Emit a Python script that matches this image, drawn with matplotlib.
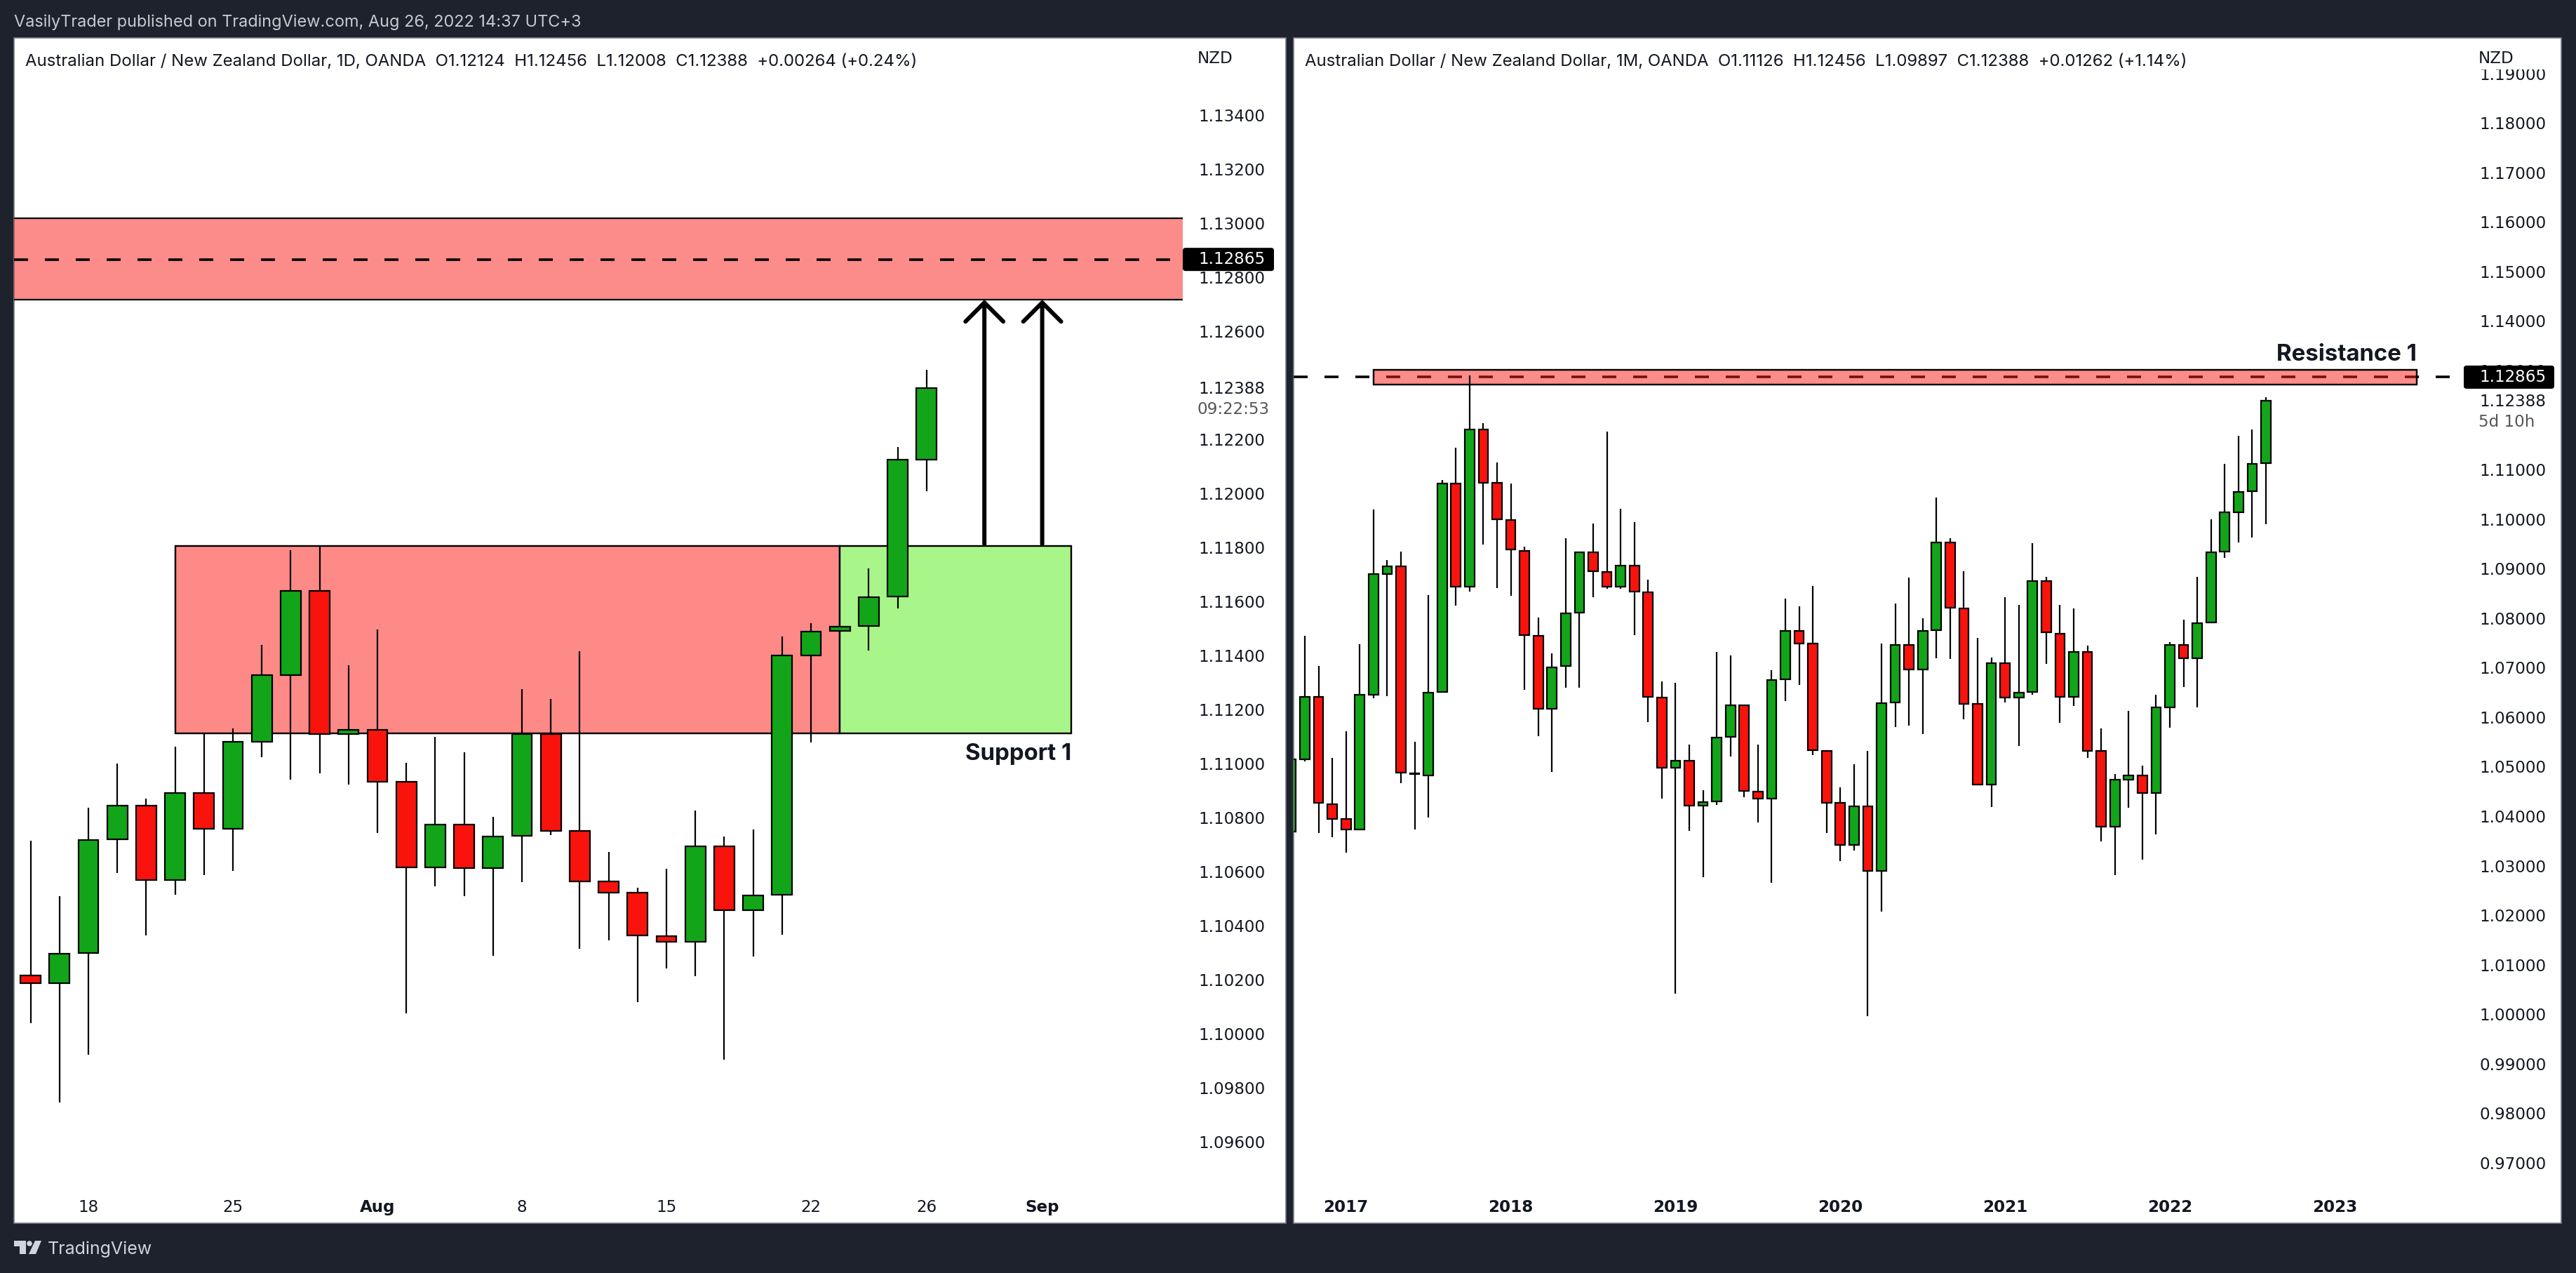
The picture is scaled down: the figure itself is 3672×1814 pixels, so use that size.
import numpy as np
import matplotlib
matplotlib.use("Agg")
from matplotlib import pyplot as plt
from matplotlib.patches import Rectangle, FancyBboxPatch, Polygon, Circle
from matplotlib.transforms import Affine2D

W, H = 3672, 1814
DPI = 100
BG = "#1e222d"
GREEN = "#12a519"
RED = "#f8130d"
BOX_RED = "#f81a14"
BOX_GREEN = "#a8f58a"

# daily candles, from mid July to Aug 26 2022
D_OPEN = [1.10214, 1.10185, 1.10297, 1.10718, 1.10843, 1.10567, 1.10889, 1.10757,
          1.11080, 1.11327, 1.11638, 1.11107, 1.11123, 1.10931, 1.10616, 1.10774,
          1.10613, 1.10731, 1.11108, 1.10749, 1.10563, 1.10521, 1.10361, 1.10339,
          1.10692, 1.10456, 1.10514, 1.11398, 1.11490, 1.11507, 1.11618, 1.12124]
D_HIGH = [1.10713, 1.10509, 1.10836, 1.10998, 1.10870, 1.11061, 1.11108, 1.11128,
          1.11439, 1.11790, 1.11805, 1.11362, 1.11496, 1.11003, 1.11099, 1.11041,
          1.10803, 1.11275, 1.11237, 1.11414, 1.10673, 1.10539, 1.10609, 1.10824,
          1.10729, 1.10754, 1.11469, 1.11518, 1.11508, 1.11720, 1.12170, 1.12456]
D_LOW = [1.10038, 1.09744, 1.09922, 1.10594, 1.10363, 1.10513, 1.10587, 1.10601,
         1.11023, 1.10940, 1.10964, 1.10922, 1.10743, 1.10075, 1.10545, 1.10508,
         1.10288, 1.10560, 1.10734, 1.10314, 1.10345, 1.10115, 1.10242, 1.10211,
         1.09902, 1.10284, 1.10366, 1.11077, 1.11485, 1.11418, 1.11574, 1.12008]
D_CLOSE = [1.10185, 1.10294, 1.10716, 1.10843, 1.10567, 1.10889, 1.10757, 1.11080,
           1.11326, 1.11638, 1.11107, 1.11123, 1.10932, 1.10616, 1.10774, 1.10613,
           1.10728, 1.11108, 1.10751, 1.10564, 1.10522, 1.10363, 1.10339, 1.10692,
           1.10456, 1.10510, 1.11398, 1.11487, 1.11505, 1.11614, 1.12125, 1.12388]

# monthly candles, Sep 2016 to Aug 2022
M_OPEN = [1.03687, 1.05151, 1.06408, 1.04247, 1.03940, 1.03723, 1.06453, 1.08893,
          1.09038, 1.04850, 1.04826, 1.06507, 1.10710, 1.08640, 1.11804, 1.10728,
          1.09978, 1.09363, 1.07637, 1.06164, 1.07031, 1.08107, 1.09327, 1.08930,
          1.08631, 1.09056, 1.08514, 1.06390, 1.04971, 1.05124, 1.04211, 1.04293,
          1.05594, 1.06236, 1.04491, 1.04347, 1.06760, 1.07736, 1.07483, 1.05314,
          1.04265, 1.03425, 1.04193, 1.02892, 1.06290, 1.07456, 1.06959, 1.07754,
          1.09526, 1.08188, 1.06263, 1.04636, 1.07086, 1.06390, 1.06507, 1.08740,
          1.07691, 1.06408, 1.07312, 1.05314, 1.03786, 1.04735, 1.04817, 1.04473,
          1.06200, 1.07456, 1.07194, 1.07908, 1.09336, 1.10141, 1.10557, 1.11126]
M_HIGH = [1.03687, 1.07646, 1.07031, 1.05178, 1.05721, 1.07474, 1.10195, 1.09165,
          1.09345, 1.05504, 1.08460, 1.10783, 1.11442, 1.12898, 1.11940, 1.11135,
          1.10719, 1.09436, 1.08008, 1.07294, 1.09617, 1.09327, 1.09915, 1.11759,
          1.10213, 1.09942, 1.08776, 1.06724, 1.06697, 1.05450, 1.04528, 1.07321,
          1.07248, 1.06236, 1.05441, 1.06941, 1.08387, 1.08243, 1.08649, 1.05314,
          1.04582, 1.05052, 1.05323, 1.07492, 1.08297, 1.08812, 1.07990, 1.10439,
          1.09607, 1.08948, 1.07592, 1.07203, 1.08423, 1.08270, 1.09517, 1.08830,
          1.08261, 1.08188, 1.07438, 1.05775, 1.04844, 1.06118, 1.05016, 1.06444,
          1.07510, 1.07962, 1.08839, 1.09987, 1.11117, 1.11687, 1.11804, 1.12456]
M_LOW = [1.03687, 1.05106, 1.03660, 1.03578, 1.03262, 1.03723, 1.06381, 1.06426,
         1.04663, 1.03732, 1.03967, 1.06507, 1.08252, 1.08532, 1.09481, 1.08604,
         1.08451, 1.06552, 1.05612, 1.04889, 1.06597, 1.06597, 1.08423, 1.08595,
         1.08595, 1.07655, 1.05902, 1.04356, 1.00415, 1.03705, 1.02765, 1.04229,
         1.05206, 1.04383, 1.03877, 1.02657, 1.06326, 1.06652, 1.05233, 1.03660,
         1.03090, 1.03307, 0.99963, 1.02069, 1.05802, 1.05829, 1.05657, 1.07185,
         1.07176, 1.05956, 1.04618, 1.04184, 1.06299, 1.05413, 1.06453, 1.07077,
         1.05883, 1.06227, 1.05178, 1.03488, 1.02810, 1.04166, 1.03117, 1.03633,
         1.05784, 1.06607, 1.06200, 1.07908, 1.09219, 1.09526, 1.09626, 1.09897]
M_CLOSE = [1.05142, 1.06408, 1.04265, 1.03940, 1.03723, 1.06444, 1.08884, 1.09038,
           1.04871, 1.04860, 1.06489, 1.10710, 1.08640, 1.11804, 1.10737, 1.09987,
           1.09382, 1.07655, 1.06164, 1.07004, 1.08089, 1.09327, 1.08939, 1.08631,
           1.09056, 1.08532, 1.06408, 1.04971, 1.05124, 1.04211, 1.04284, 1.05585,
           1.06236, 1.04510, 1.04347, 1.06742, 1.07736, 1.07483, 1.05332, 1.04275,
           1.03425, 1.04193, 1.02892, 1.06281, 1.07456, 1.06959, 1.07736, 1.09526,
           1.08206, 1.06272, 1.04636, 1.07086, 1.06390, 1.06489, 1.08740, 1.07709,
           1.06408, 1.07312, 1.05323, 1.03786, 1.04735, 1.04817, 1.04473, 1.06191,
           1.07456, 1.07194, 1.07890, 1.09327, 1.10132, 1.10548, 1.11108, 1.12388]

D_TICKS = [1.134, 1.132, 1.130, 1.128, 1.126, 1.122, 1.120, 1.118, 1.116, 1.114,
           1.112, 1.110, 1.108, 1.106, 1.104, 1.102, 1.100, 1.098, 1.096]
M_TICKS = [1.19, 1.18, 1.17, 1.16, 1.15, 1.14, 1.13, 1.11, 1.10, 1.09, 1.08, 1.07,
           1.06, 1.05, 1.04, 1.03, 1.02, 1.01, 1.00, 0.99, 0.98, 0.97]
D_DATES = ["18", "25", "Aug", "8", "15", "22", "26", "Sep"]
D_DATE_POS = [2, 7, 12, 17, 22, 27, 31, 35]
M_DATES = ["2017", "2018", "2019", "2020", "2021", "2022", "2023"]
M_DATE_POS = [4, 16, 28, 40, 52, 64, 76]

TARGET = 1.12865
LAST = 1.12388
RESIST = (1.12716, 1.13018)
SUPPORT = (1.11112, 1.11805)
ARROW_X = [33, 35]
ARROW_FROM = 1.11811

D_TITLE = ("Australian Dollar / New Zealand Dollar, 1D, OANDA  O1.12124  H1.12456  "
           "L1.12008  C1.12388  +0.00264 (+0.24%)")
M_TITLE = ("Australian Dollar / New Zealand Dollar, 1M, OANDA  O1.11126  H1.12456  "
           "L1.09897  C1.12388  +0.01262 (+1.14%)")

plt.rcParams["font.family"] = "Inter"
plt.rcParams["lines.scale_dashes"] = False

fig = plt.figure(figsize=(W / DPI, H / DPI), dpi=DPI, facecolor=BG)
PX = Affine2D().scale(1, -1).translate(0, H)   # image pixels, y going down


def pt(px):
    return px * 72.0 / DPI


def make_axes(left, right, top, bottom, xlim, ylim):
    ax = fig.add_axes([left / W, 1 - bottom / H, (right - left) / W, (bottom - top) / H])
    ax.set_xlim(*xlim)
    ax.set_ylim(*ylim)
    ax.patch.set_visible(False)
    for s in ax.spines.values():
        s.set_visible(False)
    return ax


def candles(ax, o, h, l, c):
    x = np.arange(len(o))
    o, h, l, c = map(np.array, (o, h, l, c))
    colors = [GREEN if cc >= oo else RED for oo, cc in zip(o, c)]
    ax.vlines(x, l, h, color="black", lw=pt(2.2), zorder=4)
    ax.bar(x, np.abs(c - o), bottom=np.minimum(o, c), width=0.70, color=colors,
           edgecolor="black", linewidth=pt(2.2), zorder=5)


def price_axis(ax, ticks, dates, positions, bold):
    ax.yaxis.tick_right()
    ax.set_yticks(ticks, [f"{t:.5f}" for t in ticks])
    ax.set_xticks(positions, dates)
    ax.tick_params(axis="y", length=0, pad=pt(22), labelsize=pt(23),
                   labelcolor="#131722")
    ax.tick_params(axis="x", length=0, pad=pt(-35.5), labelsize=pt(23),
                   labelcolor="#131722")
    for lab in ax.get_yticklabels() + ax.get_xticklabels():
        lab.set_fontfamily("DejaVu Sans")
    for lab in ax.get_xticklabels():
        if lab.get_text() in bold:
            lab.set_fontweight("bold")


def px_of_price(ax, price):
    return H - ax.transData.transform((0, price))[1]


def price_tag(ax, x0, x1, label_x):
    y = px_of_price(ax, TARGET)
    fig.add_artist(FancyBboxPatch((x0, y - 16.5), x1 - x0, 33, transform=PX,
                                  boxstyle="round,pad=0,rounding_size=4",
                                  fc="black", ec="none", zorder=3))
    fig.text(label_x, y, "1.12865", transform=PX, color="white", fontsize=pt(23),
             family="DejaVu Sans", va="center", zorder=4)


# white panels
for x0, x1 in [(20, 1833), (1844, 3651)]:
    fig.add_artist(Rectangle((x0, 54), x1 - x0, 1743 - 54, transform=PX, fc="white",
                             ec="#787b86", lw=1.2, zorder=-1))

# daily chart
ax1 = make_axes(20, 1686, 55.5, 1744.5, (-0.573, 39.864), (1.09294, 1.13681))
ax1.axhspan(*RESIST, fc=BOX_RED, alpha=0.5, ec="none", zorder=1)
ax1.plot([-0.573, 39.864], [RESIST[0]] * 2, color="black", lw=pt(2.2), zorder=2)
ax1.plot([-0.573, 39.864], [RESIST[1]] * 2, color="black", lw=pt(2.2), zorder=2)
ax1.plot([-0.573, 39.864], [TARGET] * 2, color="black", lw=pt(3.6), zorder=3,
         linestyle=(0, (pt(20), pt(24))))
ax1.add_patch(Rectangle((5, SUPPORT[0]), 23, SUPPORT[1] - SUPPORT[0], fc="#fd8a87",
                        ec="black", lw=pt(2.4), zorder=2))
ax1.add_patch(Rectangle((28, SUPPORT[0]), 8, SUPPORT[1] - SUPPORT[0], fc=BOX_GREEN,
                        ec="black", lw=pt(2.4), zorder=2))
candles(ax1, D_OPEN, D_HIGH, D_LOW, D_CLOSE)
price_axis(ax1, D_TICKS, D_DATES, D_DATE_POS, ["Aug", "Sep"])
for ax_x in ARROW_X:
    ax1.annotate("", xy=(ax_x, RESIST[0]), xytext=(ax_x, ARROW_FROM),
                 arrowprops=dict(arrowstyle="->,head_length=%.1f,head_width=%.1f" % (pt(27), pt(27)),
                                 mutation_scale=1, color="black", lw=pt(6),
                                 shrinkA=0, shrinkB=0), zorder=6)
ax1.text(36, SUPPORT[0] - 0.00078, "Support 1", ha="right", va="center",
         fontsize=pt(33), fontweight="bold", color="#131722", zorder=7)

# monthly chart
ax2 = make_axes(1844, 3512, 55.5, 1744.5, (0.182, 85.41), (0.95758, 1.19695))
ax2.plot([0.182, 85.41], [TARGET] * 2, color="black", lw=pt(3.6), zorder=1,
         linestyle=(0, (pt(20), pt(24))))
ax2.add_patch(Rectangle((6, RESIST[0]), 76, RESIST[1] - RESIST[0], fc=BOX_RED, alpha=0.5,
                        ec="none", zorder=2))
ax2.add_patch(Rectangle((6, RESIST[0]), 76, RESIST[1] - RESIST[0], fc="none",
                        ec="black", lw=pt(2.4), zorder=3))
candles(ax2, M_OPEN, M_HIGH, M_LOW, M_CLOSE)
price_axis(ax2, M_TICKS, M_DATES, M_DATE_POS, M_DATES)
ax2.text(82, RESIST[1] + 0.0030, "Resistance 1", ha="right", va="center",
         fontsize=pt(33), fontweight="bold", color="#131722", zorder=7)

# tags and the labels next to them
price_tag(ax1, 1686, 1816, 1708)
price_tag(ax2, 3512, 3641, 3534)
for ax, lx, sub in [(ax1, 1708, "09:22:53"), (ax2, 3534, "5d 10h")]:
    y = px_of_price(ax, LAST)
    fig.text(lx, y + 1, f"{LAST:.5f}", transform=PX, color="#131722", fontsize=pt(23),
             family="DejaVu Sans", va="center", zorder=4)
    fig.text(lx - 1, y + 30, sub, transform=PX, color="#555555", fontsize=pt(23),
             family="DejaVu Sans", va="center", zorder=4)

# top tick of the monthly scale runs under the currency label
fig.add_artist(Rectangle((3520, 56), 125, 43, transform=PX, fc="white", ec="none", zorder=5))
for lx in (1707, 3533):
    fig.text(lx, 84, "NZD", transform=PX, color="#131722", fontsize=pt(23),
             family="DejaVu Sans", va="center", zorder=6)

fig.text(36, 88, D_TITLE, transform=PX, color="#131722", fontsize=pt(24), va="center", zorder=6)
fig.text(1860, 88, M_TITLE, transform=PX, color="#131722", fontsize=pt(24), va="center", zorder=6)
fig.text(20, 32, "VasilyTrader published on TradingView.com, Aug 26, 2022 14:37 UTC+3",
         transform=PX, color="#c8cad2", fontsize=pt(23.5), va="center")

# footer logo
LOGO = "#d1d4dc"
fig.add_artist(Polygon([(20, 1768), (37, 1768), (37, 1787), (28, 1787), (28, 1776), (20, 1776)],
                       transform=PX, fc=LOGO, ec="none"))
fig.add_artist(Circle((42, 1772), 3.8, transform=PX, fc=LOGO, ec="none"))
fig.add_artist(Polygon([(50, 1768), (59, 1768), (51, 1787), (41, 1787)],
                       transform=PX, fc=LOGO, ec="none"))
fig.text(68, 1780, "TradingView", transform=PX, color=LOGO, fontsize=pt(25), va="center")

fig.savefig("out.png", dpi=DPI, facecolor=BG)
